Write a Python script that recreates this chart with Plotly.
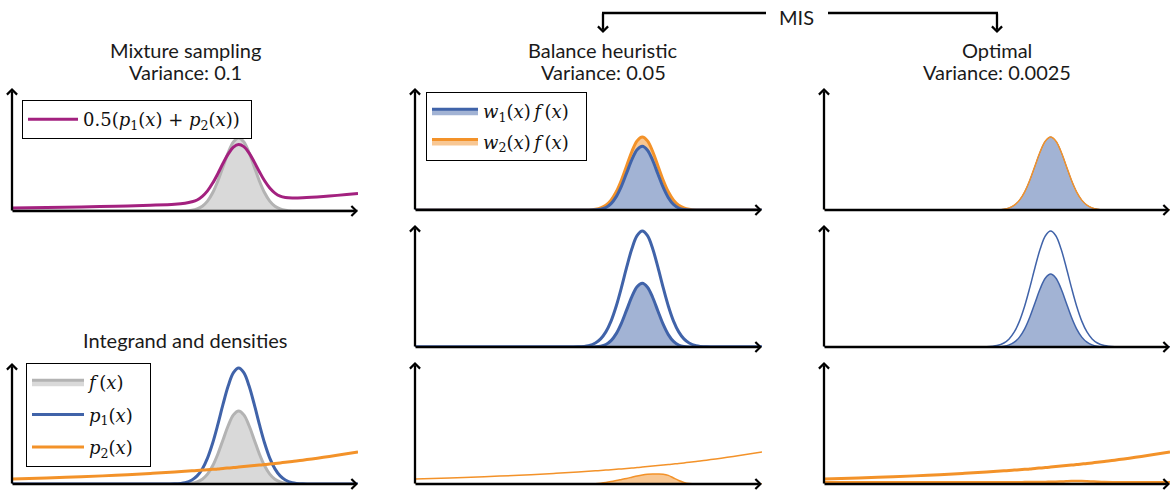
import plotly.graph_objects as go

# ---------------- data ----------------
X = [0.0, 0.1, 0.2, 0.3, 0.4, 0.47, 0.5, 0.52, 0.535, 0.55, 0.565, 0.58, 0.595, 0.61,
     0.625, 0.64, 0.655, 0.67, 0.685, 0.70, 0.715, 0.73, 0.745, 0.76, 0.775, 0.79,
     0.81, 0.84, 0.9, 1.0]

# integrand f(x)
F = [0, 0, 0, 0, 0, 0, 0.1, 0.8, 2.1, 4.8, 9.9, 18.2, 30.0, 44.3, 58.5, 69.1, 73.0,
     69.1, 58.5, 44.3, 30.0, 18.2, 9.9, 4.8, 2.1, 0.8, 0.1, 0, 0, 0]
# density p1(x)
P1 = [0, 0, 0, 0, 0, 0.2, 1.4, 4.0, 8.1, 15.1, 25.9, 41.0, 59.6, 79.8, 98.2, 111.3,
      116.0, 111.3, 98.2, 79.8, 59.6, 41.0, 25.9, 15.1, 8.1, 4.0, 1.4, 0.2, 0, 0]
# density p2(x)
P2 = [5.0, 6.0, 7.3, 8.7, 10.5, 12.0, 12.7, 13.2, 13.5, 13.9, 14.3, 14.7, 15.1, 15.6,
      16.0, 16.4, 16.9, 17.4, 17.9, 18.4, 18.9, 19.4, 20.0, 20.6, 21.1, 21.7, 22.6,
      23.8, 26.7, 32.1]
# mixture 0.5(p1 + p2)
MIX = [3.0, 3.4, 4.0, 4.8, 5.8, 6.8, 7.8, 9.2, 11.0, 14.6, 20.1, 27.9, 37.4, 47.7,
       57.1, 63.9, 66.5, 64.4, 58.1, 49.1, 39.3, 30.2, 23.0, 17.9, 14.8, 13.5, 13.0,
       13.2, 14.5, 17.5]
# balance heuristic: w1(x) f(x) and w2(x) f(x)
W1F = [0, 0, 0, 0, 0, 0, 0, 0.2, 0.8, 2.5, 6.4, 13.4, 23.9, 37.1, 50.3, 60.2, 63.7,
       59.8, 49.5, 36.0, 22.8, 12.4, 5.6, 2.0, 0.6, 0.1, 0, 0, 0, 0]
W2F = [0, 0, 0, 0, 0, 0, 0, 0.3, 0.8, 1.5, 2.4, 3.4, 4.5, 5.6, 6.8, 8.0, 9.0, 9.7,
       10.0, 10.0, 9.8, 8.6, 6.0, 3.5, 1.6, 0.5, 0, 0, 0, 0]
# optimal: w2(x) f(x) (almost zero)
OPT_W2F = [1.8, 1.8, 1.8, 1.8, 1.8, 1.8, 1.8, 1.8, 1.8, 1.8, 1.8, 1.9, 1.9, 2.0, 2.0,
           2.1, 2.2, 2.3, 2.5, 2.7, 2.9, 3.0, 3.0, 2.8, 2.5, 2.2, 1.9, 1.8, 1.8, 1.8]

TITLES = {
    "LT": ["Mixture sampling", "Variance: 0.1"],
    "MT": ["Balance heuristic", "Variance: 0.05"],
    "RT": ["Optimal", "Variance: 0.0025"],
    "LB": ["Integrand and densities"],
}

# ---------------- styling ----------------
W, H = 1172, 491
BLUE, BLUE_FILL = "#4063a9", "#a2b3d4"
ORANGE, ORANGE_FILL = "#f39229", "#f8c793"
GRAY_LINE, GRAY_FILL = "#b3b3b3", "#d9d9d9"
PURPLE = "#a3217f"
TITLE_FONT = dict(family="Lato, Open Sans, sans-serif", size=20, color="#1a1a1a")
LEG_FONT = dict(family="DejaVu Serif, Liberation Serif, serif", size=18, color="#111")

# panel pixel boxes: left, right, top (arrow tip), bottom (x axis)
PANELS = {
    "LT": (12, 358, 88, 211),
    "LB": (12, 358, 363, 484),
    "MT": (415, 762, 88, 210),
    "MM": (415, 762, 225, 347),
    "MB": (415, 762, 362, 484),
    "RT": (824, 1170, 88, 210),
    "RM": (824, 1170, 225, 347),
    "RB": (824, 1170, 362, 484),
}
AX = {}
fig = go.Figure()
layout = {}
annotations = []
for i, (key, (l, r, t, b)) in enumerate(PANELS.items(), start=1):
    xs = "" if i == 1 else str(i)
    AX[key] = ("x" + xs, "y" + xs)
    layout["xaxis" + xs] = dict(domain=[l / W, r / W], range=[0, 1], visible=False,
                                fixedrange=True, anchor="y" + xs)
    layout["yaxis" + xs] = dict(domain=[1 - b / H, 1 - t / H], range=[0, b - t],
                                visible=False, fixedrange=True, anchor="x" + xs)
    arrow = dict(text="", showarrow=True, arrowhead=4, arrowsize=0.85, arrowwidth=2.3,
                 arrowcolor="black", axref="pixel", ayref="pixel", standoff=0,
                 xref="x" + xs + " domain", yref="y" + xs + " domain")
    annotations.append(dict(arrow, x=1, y=0, ax=-(r - l + 1), ay=0))
    annotations.append(dict(arrow, x=0, y=1, ax=0, ay=(b - t + 1)))


def add(key, y, **kw):
    xa, ya = AX[key]
    kw.setdefault("showlegend", False)
    fig.add_trace(go.Scatter(x=X, y=y, xaxis=xa, yaxis=ya, mode="lines",
                             line_shape="spline", hoverinfo="skip", **kw))


TS = "\u2009"   # thin space (math spacing)
PAD = "\u00a0"  # padding inside legend boxes
f_name = "<i>f</i>" + TS + "(<i>x</i>)"
p1_name = "<i>p</i><sub>1</sub>(<i>x</i>)" + PAD * 2
p2_name = "<i>p</i><sub>2</sub>(<i>x</i>)"
mix_name = "0.5(<i>p</i><sub>1</sub>(<i>x</i>) + <i>p</i><sub>2</sub>(<i>x</i>))" + PAD
w1_name = "<i>w</i><sub>1</sub>(<i>x</i>)" + TS + "<i>f</i>" + TS + "(<i>x</i>)" + PAD * 2
w2_name = "<i>w</i><sub>2</sub>(<i>x</i>)" + TS + "<i>f</i>" + TS + "(<i>x</i>)"

# left top: mixture sampling
add("LT", F, fill="tozeroy", fillcolor=GRAY_FILL, line=dict(color=GRAY_LINE, width=3))
add("LT", MIX, line=dict(color=PURPLE, width=3), name=mix_name, showlegend=True,
    legend="legend")

# left bottom: integrand and densities
add("LB", F, fill="tozeroy", fillcolor=GRAY_FILL, line=dict(color=GRAY_LINE, width=3),
    name=f_name, showlegend=True, legend="legend2", legendgroup="a")
add("LB", P1, line=dict(color=BLUE, width=3), name=p1_name, showlegend=True,
    legend="legend2", legendgroup="b")
add("LB", P2, line=dict(color=ORANGE, width=3), name=p2_name, showlegend=True,
    legend="legend2", legendgroup="c")

# middle top: balance heuristic stacked
add("MT", F, fill="tozeroy", fillcolor=ORANGE_FILL, line=dict(color=ORANGE, width=3),
    name=w2_name, showlegend=True, legend="legend3", legendrank=2, legendgroup="e")
add("MT", W1F, fill="tozeroy", fillcolor=BLUE_FILL, line=dict(color=BLUE, width=3),
    name=w1_name, showlegend=True, legend="legend3", legendrank=1, legendgroup="d")

# middle middle
add("MM", P1, line=dict(color=BLUE, width=3))
add("MM", W1F, fill="tozeroy", fillcolor=BLUE_FILL, line=dict(color=BLUE, width=3))

# middle bottom
add("MB", P2, line=dict(color=ORANGE, width=1.5))
add("MB", W2F, fill="tozeroy", fillcolor=ORANGE_FILL, line=dict(color=ORANGE, width=1.5))

# right top: optimal
add("RT", F, fill="tozeroy", fillcolor=BLUE_FILL, line=dict(color=BLUE, width=1))
add("RT", F, line=dict(color=ORANGE, width=1.5))

# right middle
add("RM", P1, line=dict(color=BLUE, width=1.5))
add("RM", F, fill="tozeroy", fillcolor=BLUE_FILL, line=dict(color=BLUE, width=1.5))

# right bottom
add("RB", P2, line=dict(color=ORANGE, width=3))
add("RB", OPT_W2F, line=dict(color=ORANGE, width=2.5))

# titles (one annotation per line)
title_pos = {"LT": (185, 50), "MT": (603, 50), "RT": (997, 50), "LB": (185, 340)}
for k, lines in TITLES.items():
    cx, cy = title_pos[k]
    for j, txt in enumerate(lines):
        annotations.append(dict(text=txt, x=cx / W, y=1 - (cy + 22 * j) / H,
                                xref="paper", yref="paper", showarrow=False,
                                xanchor="center", yanchor="middle", font=TITLE_FONT))

# MIS bracket
annotations.append(dict(text="MIS", x=796 / W, y=1 - 17 / H, xref="paper", yref="paper",
                        showarrow=False, xanchor="center", yanchor="middle", font=TITLE_FONT))
for vx in (603, 997):
    annotations.append(dict(text="", x=vx / W, y=1 - 33 / H, xref="paper", yref="paper",
                            ax=0, ay=-21, axref="pixel", ayref="pixel", showarrow=True,
                            arrowhead=4, arrowsize=0.85, arrowwidth=2.3, arrowcolor="black",
                            standoff=0))
shapes = [
    dict(type="line", xref="paper", yref="paper", x0=766 / W, x1=602 / W,
         y0=1 - 13 / H, y1=1 - 13 / H, line=dict(color="black", width=2.3)),
    dict(type="line", xref="paper", yref="paper", x0=828 / W, x1=998 / W,
         y0=1 - 13 / H, y1=1 - 13 / H, line=dict(color="black", width=2.3)),
]

leg_common = dict(bgcolor="white", bordercolor="black", borderwidth=1, font=LEG_FONT,
                  xanchor="left", yanchor="top", itemclick=False, itemdoubleclick=False,
                  itemwidth=50)
layout["legend"] = dict(leg_common, x=22 / W, y=1 - 100 / H)
layout["legend2"] = dict(leg_common, x=26 / W, y=1 - 363 / H, tracegroupgap=6,
                         itemwidth=52)
layout["legend3"] = dict(leg_common, x=426 / W, y=1 - 92 / H, tracegroupgap=4,
                         itemwidth=46)

fig.update_layout(width=W, height=H, margin=dict(l=0, r=0, t=0, b=0),
                  paper_bgcolor="white", plot_bgcolor="rgba(0,0,0,0)",
                  annotations=annotations, shapes=shapes, **layout)
fig.write_html("out.html")
